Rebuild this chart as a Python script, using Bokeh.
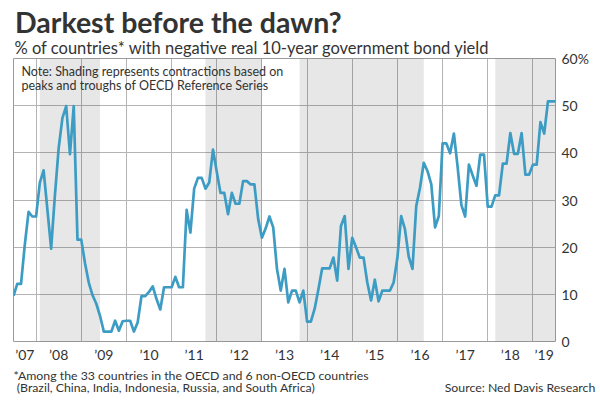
from bokeh.plotting import figure
from bokeh.models import FixedTicker, Label, BoxAnnotation, Range1d, Title, LinearAxis
from bokeh.embed import file_html
from bokeh.resources import INLINE

# ---- data ----
start_year, start_month = 2007, 7          # first monthly observation (Jul 2007)
pct_negative = [
    9.7, 12.2, 12.2, 20.5, 27.5, 26.5, 26.5, 33.7, 36.3, 28.0,
    19.7, 31.0, 41.0, 47.4, 49.9, 39.7, 49.9, 21.6, 21.6, 16.6,
    12.5, 9.8, 8.0, 5.4, 2.1, 2.1, 2.1, 4.4, 2.3, 4.3,
    4.4, 4.4, 2.1, 4.1, 9.6, 9.6, 10.5, 11.7, 9.0, 6.8,
    11.5, 11.5, 11.5, 13.7, 11.5, 11.5, 27.9, 23.1, 32.4, 34.7,
    34.7, 32.4, 33.7, 40.7, 36.0, 31.5, 31.5, 27.0, 31.5, 29.2,
    29.2, 34.0, 34.0, 33.3, 33.3, 26.0, 22.0, 24.0, 26.5, 24.2,
    15.4, 10.8, 15.4, 8.3, 10.8, 10.8, 8.3, 10.8, 4.2, 4.2,
    6.9, 11.0, 15.5, 15.5, 15.5, 17.8, 12.9, 24.5, 26.6, 15.4,
    22.0, 20.0, 17.8, 17.8, 12.5, 8.7, 13.1, 8.5, 10.8, 10.8,
    10.8, 12.5, 17.8, 26.6, 23.8, 18.0, 15.4, 28.7, 32.6, 37.9,
    36.1, 33.3, 24.2, 26.6, 42.0, 42.0, 39.9, 44.1, 37.0, 28.9,
    26.5, 37.5, 35.2, 33.0, 39.6, 39.6, 28.6, 28.6, 31.0, 31.0,
    37.7, 37.7, 44.2, 39.8, 39.8, 44.2, 35.4, 35.4, 37.5, 37.5,
    46.5, 44.1, 50.9, 50.9, 50.9,
]
shade_start = ["2008-02", "2011-10", "2013-11", "2018-03"]
shade_end = ["2009-06", "2013-01", "2016-08", "2019-07"]
years = list(range(2007, 2020))
year_labels = ["\u201907", "\u201908", "\u201909", "\u201910", "\u201911", "\u201912", "\u201913",
               "\u201914", "\u201915", "\u201916", "\u201917", "\u201918", "\u201919"]
y_ticks = [0, 10, 20, 30, 40, 50, 60]
y_labels = ["0", "10", "20", "30", "40", "50", "60%"]

title_text = "Darkest before the dawn?"
subtitle_text = "% of countries* with negative real 10-year government bond yield"
note_lines = ["Note: Shading represents contractions based on",
              "peaks and troughs of OECD Reference Series"]
foot_line1 = "*Among the 33 countries in the OECD and 6 non-OECD countries"
foot_line2 = "(Brazil, China, India, Indonesia, Russia, and South Africa)"
source_text = "Source: Ned Davis Research"


def ym(s):
    y, m = s.split("-")
    return int(y) + (int(m) - 1) / 12.0


x = [start_year + (start_month - 1) / 12.0 + i / 12.0 for i in range(len(pct_negative))]
x0, x1 = x[0], x[-1]
y0, y1 = y_ticks[0], y_ticks[-1]

# label positions: centre of the visible part of each year
tick_pos = [(max(yr, x0) + min(yr + 1, x1)) / 2.0 for yr in years]

FONT = "Lato"
DARK = "#333333"
FL, FR, FT, FB = 13, 555, 57.7, 340.5   # frame edges in page pixels

p = figure(width=600, height=401, output_backend="svg", toolbar_location=None,
           x_range=Range1d(x0, x1), y_range=Range1d(y0, y1),
           y_axis_location="right",
           min_border_left=FL, min_border_right=600 - FR, min_border_top=58,
           min_border_bottom=60)
# pixel-based helper ranges for text placement
p.extra_x_ranges = {"px": Range1d(FL, FR)}
p.extra_y_ranges = {"py": Range1d(FB, FT)}
p.background_fill_color = "white"
p.border_fill_color = "white"
p.outline_line_color = "#9a9a9a"
p.outline_line_width = 1

# titles above the frame
p.add_layout(Title(text=subtitle_text, align="left", offset=1, text_font=FONT,
                   text_font_size="16.5px", text_font_style="normal", text_color=DARK,
                   standoff=2), "above")
p.add_layout(Title(text=title_text, align="left", offset=1.5, text_font=FONT,
                   text_font_size="28.5px", text_font_style="bold", text_color=DARK,
                   standoff=-9), "above")

# grids
p.xgrid.ticker = FixedTicker(ticks=years[1:])
p.ygrid.ticker = FixedTicker(ticks=y_ticks)
for g in (p.xgrid, p.ygrid):
    g.grid_line_color = "#b4b4b4"
    g.grid_line_width = 1

# shading
for s, e in zip(shade_start, shade_end):
    p.add_layout(BoxAnnotation(left=ym(s), right=ym(e), fill_color="black",
                               fill_alpha=0.095, line_alpha=0, level="underlay"))

p.line(x, pct_negative, line_color="#3d9cc4", line_width=2.7, line_join="round")

# axes
xa = p.xaxis[0]
xa.ticker = FixedTicker(ticks=tick_pos)
xa.major_label_overrides = {t: l for t, l in zip(tick_pos, year_labels)}
ya = p.yaxis[0]
ya.ticker = FixedTicker(ticks=y_ticks)
ya.major_label_overrides = {t: l for t, l in zip(y_ticks, y_labels)}
for ax in (xa, ya):
    ax.axis_line_color = None
    ax.major_tick_line_color = None
    ax.minor_tick_line_color = None
    ax.major_tick_out = 0
    ax.major_tick_in = 0
    ax.major_label_text_font = FONT
    ax.major_label_text_font_size = "14px"
    ax.major_label_text_color = DARK
xa.major_label_standoff = 4
ya.major_label_standoff = 6

# footnote rows as extra (line-less) axes below the year labels
def foot_axis(texts, centres, standoff):
    ax = LinearAxis(x_range_name="px", ticker=FixedTicker(ticks=centres),
                    major_label_overrides={c: t for c, t in zip(centres, texts)},
                    axis_line_color=None, major_tick_line_color=None,
                    minor_tick_line_color=None, major_tick_out=0, major_tick_in=0,
                    minor_tick_out=0, minor_tick_in=0,
                    major_label_standoff=standoff, major_label_text_font=FONT,
                    major_label_text_font_size="12.3px", major_label_text_color=DARK)
    p.add_layout(ax, "below")


foot_axis([foot_line1], [190.5], 2)
foot_axis([foot_line2, source_text], [165.5, 519.5], -6)

# note inside the frame
for i, line in enumerate(note_lines):
    p.add_layout(Label(x=21, y=70.5 + 14 * i, x_range_name="px", y_range_name="py",
                       text=line, text_font=FONT, text_font_size="12.5px", text_color=DARK,
                       text_baseline="middle"))

open("out.html", "w").write(file_html(p, INLINE))
